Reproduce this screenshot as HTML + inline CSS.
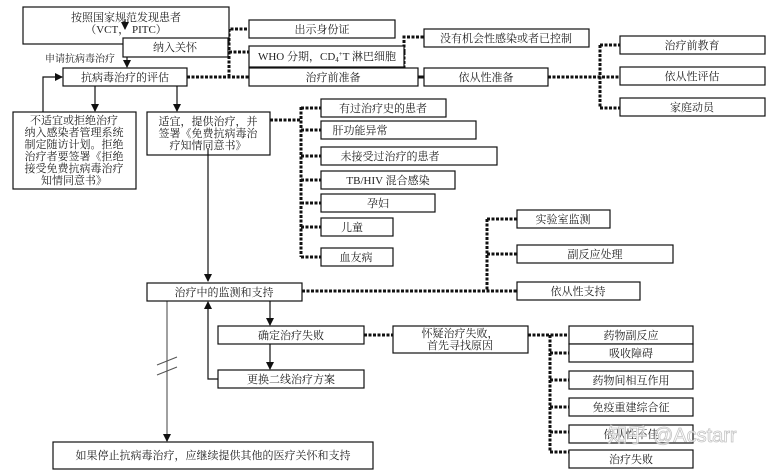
<!DOCTYPE html>
<html><head><meta charset="utf-8"><style>
html,body{margin:0;padding:0;background:#fff;}
svg{display:block;}
text{font-family:"Liberation Serif","Noto Serif CJK SC",serif;font-size:11px;fill:#222;text-anchor:middle;}
.b{fill:#fff;stroke:#111;stroke-width:1.2;}
.d{fill:none;stroke:#111;stroke-width:3;stroke-dasharray:3,1.5;}
.s{fill:none;stroke:#111;stroke-width:1.2;}
</style></head><body>
<svg width="774" height="475" viewBox="0 0 774 475">
<defs><marker id="a" markerWidth="8" markerHeight="8" refX="7" refY="4" orient="auto" markerUnits="userSpaceOnUse"><path d="M0,0L8,4L0,8z" fill="#111"/></marker></defs>

<!-- dotted connectors -->
<path class="d" d="M187,77H249 M229,77V29H249 M229,52H249"/>
<path class="d" d="M418,77H424 M404,52V37H424 M404,52V77H424"/>
<path class="d" d="M548,77H620 M600,45H620 M600,45V108H620"/>
<path class="d" d="M270,120H301 M301,107V257 M301,108H321 M301,130H321 M301,156H321 M301,180H321 M301,203H321 M301,227H321 M301,257H321"/>
<path class="d" d="M302,291H517 M487,219V291 M487,219H517 M487,254H517"/>
<path class="d" d="M364,335H393 M528,335H569 M550,335V452 M550,353H569 M550,380H569 M550,407H569 M550,432H569 M550,452H569"/>

<!-- solid arrows -->
<path class="s" d="M127,57V67" marker-end="url(#a)"/>
<path class="s" d="M125,19V29" marker-end="url(#a)"/>
<path class="s" d="M95,86V111" marker-end="url(#a)"/>
<path class="s" d="M177,86V111" marker-end="url(#a)"/>
<path class="s" d="M43,112V77H62" marker-end="url(#a)"/>
<path class="s" d="M208,140V281" marker-end="url(#a)"/>
<path class="s" d="M270,301V325" marker-end="url(#a)"/>
<path class="s" d="M270,344V369" marker-end="url(#a)"/>
<path class="s" d="M218,379H208V302" marker-end="url(#a)"/>
<path d="M167,301V441" stroke="#777" stroke-width="1.4" fill="none" marker-end="url(#a)"/>
<path d="M157,365L177,357 M157,375L177,367" stroke="#555" stroke-width="1"/>

<!-- boxes -->
<rect class="b" x="23" y="7" width="206" height="37"/>
<text x="126" y="21">按照国家规范发现患者</text>
<text x="126" y="33">（VCT，  PITC）</text>
<path class="s" d="M125,19V29" marker-end="url(#a)"/>
<rect class="b" x="123" y="38" width="105" height="19"/>
<text x="175" y="51">纳入关怀</text>
<text x="80" y="62" style="font-size:10px">申请抗病毒治疗</text>
<rect class="b" x="63" y="68" width="124" height="18"/>
<text x="125" y="81">抗病毒治疗的评估</text>

<rect class="b" x="13" y="112" width="123" height="77"/>
<text x="74" y="124">不适宜或拒绝治疗</text>
<text x="74" y="136">纳入感染者管理系统</text>
<text x="74" y="148">制定随访计划。拒绝</text>
<text x="74" y="160">治疗者要签署《拒绝</text>
<text x="74" y="172">接受免费抗病毒治疗</text>
<text x="74" y="184">知情同意书》</text>

<rect class="b" x="147" y="112" width="123" height="43"/>
<text x="208" y="125">适宜，提供治疗，并</text>
<text x="208" y="137">签署《免费抗病毒治</text>
<text x="208" y="149">疗知情同意书》</text>
<path class="s" d="M208,148V155"/>

<rect class="b" x="249" y="20" width="146" height="18"/><text x="322" y="33">出示身份证</text>
<rect class="b" x="249" y="46" width="155" height="21"/><text x="327" y="60">WHO 分期，CD<tspan font-size="7" dy="2">4</tspan><tspan font-size="7" dy="-6">+</tspan><tspan dy="4">T 淋巴细胞</tspan></text>
<rect class="b" x="249" y="68" width="169" height="18"/><text x="333" y="81">治疗前准备</text>
<rect class="b" x="424" y="29" width="165" height="18"/><text x="506" y="42">没有机会性感染或者已控制</text>
<rect class="b" x="424" y="68" width="124" height="18"/><text x="486" y="81">依从性准备</text>
<rect class="b" x="620" y="36" width="145" height="18"/><text x="692" y="49">治疗前教育</text>
<rect class="b" x="620" y="67" width="145" height="18"/><text x="692" y="80">依从性评估</text>
<rect class="b" x="620" y="98" width="145" height="18"/><text x="692" y="111">家庭动员</text>

<rect class="b" x="321" y="99" width="125" height="18"/><text x="383" y="112">有过治疗史的患者</text>
<rect class="b" x="321" y="121" width="155" height="18"/><text x="360" y="134">肝功能异常</text>
<rect class="b" x="321" y="147" width="176" height="18"/><text x="390" y="160">未接受过治疗的患者</text>
<rect class="b" x="321" y="171" width="134" height="18"/><text x="388" y="184">TB/HIV 混合感染</text>
<rect class="b" x="321" y="194" width="114" height="18"/><text x="378" y="207">孕妇</text>
<rect class="b" x="321" y="218" width="72" height="18"/><text x="352" y="231">儿童</text>
<rect class="b" x="321" y="248" width="72" height="18"/><text x="356" y="261">血友病</text>

<rect class="b" x="517" y="210" width="93" height="18"/><text x="563" y="223">实验室监测</text>
<rect class="b" x="517" y="245" width="156" height="18"/><text x="595" y="258">副反应处理</text>
<rect class="b" x="517" y="282" width="123" height="18"/><text x="578" y="295">依从性支持</text>

<rect class="b" x="147" y="283" width="155" height="18"/><text x="224" y="296">治疗中的监测和支持</text>
<rect class="b" x="218" y="326" width="146" height="18"/><text x="291" y="339">确定治疗失败</text>
<rect class="b" x="393" y="326" width="135" height="27"/><text x="460" y="337">怀疑治疗失败，</text><text x="460" y="349">首先寻找原因</text>
<rect class="b" x="218" y="370" width="146" height="18"/><text x="291" y="383">更换二线治疗方案</text>
<rect class="b" x="53" y="442" width="320" height="27"/><text x="213" y="459">如果停止抗病毒治疗，应继续提供其他的医疗关怀和支持</text>

<rect class="b" x="569" y="326" width="124" height="18"/><text x="631" y="339">药物副反应</text>
<rect class="b" x="569" y="344" width="124" height="18"/><text x="631" y="357">吸收障碍</text>
<rect class="b" x="569" y="371" width="124" height="18"/><text x="631" y="384">药物间相互作用</text>
<rect class="b" x="569" y="398" width="124" height="18"/><text x="631" y="411">免疫重建综合征</text>
<rect class="b" x="569" y="425" width="124" height="18"/><text x="631" y="438">依从性不佳</text>
<rect class="b" x="569" y="450" width="124" height="18"/><text x="631" y="463">治疗失败</text>

<text x="672" y="442" style="font-family:'Liberation Sans','Noto Sans CJK SC',sans-serif;font-size:20px;fill:#fff;stroke:#bbb;stroke-width:0.8;opacity:0.85">知乎 @Acstarr</text>
</svg>
</body></html>
